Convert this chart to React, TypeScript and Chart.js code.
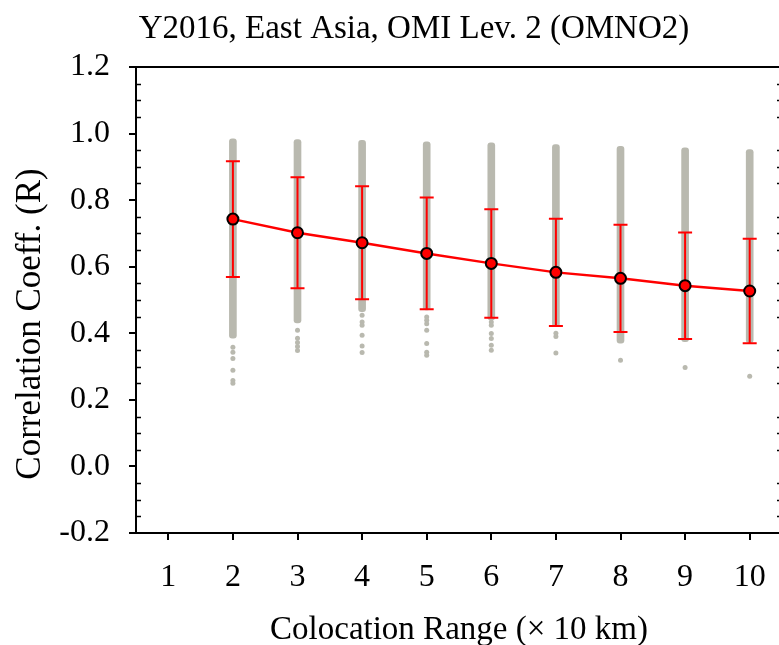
import { useEffect, useRef } from 'react';
import { Chart, registerables } from 'chart.js';

Chart.register(...registerables);

// Colocation range (× 10 km) and the mean correlation with its standard deviation
const ranges = [2, 3, 4, 5, 6, 7, 8, 9, 10];
const meanR = [0.743, 0.702, 0.672, 0.640, 0.610, 0.583, 0.565, 0.543, 0.527];
const sdR = [0.174, 0.167, 0.170, 0.168, 0.163, 0.161, 0.161, 0.160, 0.157];

// Dense spread of individual correlations at each range
const bandTop = [0.984, 0.982, 0.980, 0.975, 0.972, 0.967, 0.962, 0.957, 0.952];
const bandLow = [0.385, 0.431, 0.465, 0.470, 0.440, 0.420, 0.370, 0.375, 0.372];

// Sparse low correlations below the dense spread
const lowR2 = [0.358, 0.343, 0.324, 0.289, 0.258, 0.250];
const lowR3 = [0.409, 0.385, 0.372, 0.360, 0.348];
const lowR4 = [0.454, 0.434, 0.424, 0.394, 0.362, 0.342];
const lowR5 = [0.449, 0.439, 0.429, 0.409, 0.369, 0.343, 0.334];
const lowR6 = [0.434, 0.424, 0.399, 0.384, 0.364, 0.349];
const lowR7 = [0.400, 0.390, 0.341];
const lowR8 = [0.319];
const lowR9 = [0.297];
const lowR10 = [0.271];
const lowR = [lowR2, lowR3, lowR4, lowR5, lowR6, lowR7, lowR8, lowR9, lowR10];

const xTicks = [1, 2, 3, 4, 5, 6, 7, 8, 9, 10];
const yTicks = [-0.2, 0.0, 0.2, 0.4, 0.6, 0.8, 1.0, 1.2];

const TITLE = 'Y2016, East Asia, OMI Lev. 2 (OMNO2)';
const X_TITLE = 'Colocation Range (× 10 km)';
const Y_TITLE = 'Correlation Coeff. (R)';

const FAMILY = '"Liberation Serif", "Times New Roman", serif';
const GRAY = '#b9b9af';
const RED = '#ff0000';

const CANVAS_W = 800;
const CANVAS_H = 645;

const framePlugin = {
  id: 'frame',
  beforeDatasetDraw(chart: any, args: any) {
    // error bars sit under the mean line and its markers
    if (args.index !== 0) return;
    const { ctx } = chart;
    const xs = chart.scales.x;
    const ys = chart.scales.y;
    ctx.save();
    ctx.strokeStyle = RED;
    ctx.lineWidth = 2;
    ranges.forEach((r, i) => {
      const px = xs.getPixelForValue(r);
      const hi = ys.getPixelForValue(meanR[i] + sdR[i]);
      const lo = ys.getPixelForValue(meanR[i] - sdR[i]);
      ctx.beginPath();
      ctx.moveTo(px, hi);
      ctx.lineTo(px, lo);
      ctx.moveTo(px - 7, hi);
      ctx.lineTo(px + 7, hi);
      ctx.moveTo(px - 7, lo);
      ctx.lineTo(px + 7, lo);
      ctx.stroke();
    });
    ctx.restore();
  },
  afterDraw(chart: any) {
    const { ctx, chartArea } = chart;
    const { left, right, top, bottom } = chartArea;
    const ys = chart.scales.y;
    ctx.save();
    ctx.strokeStyle = '#000';
    ctx.lineWidth = 2;
    // closing frame: top and right edges
    ctx.beginPath();
    ctx.moveTo(left - 1, top);
    ctx.lineTo(right, top);
    ctx.moveTo(right, top - 1);
    ctx.lineTo(right, bottom + 1);
    ctx.stroke();
    // minor ticks (inward) every 0.05 and outward majors on the right axis
    ctx.lineWidth = 1.5;
    ctx.beginPath();
    for (let k = 0; k <= 28; k++) {
      const v = -0.2 + k * 0.05;
      const py = Math.round(ys.getPixelForValue(v)) + 0.5;
      if (k % 4 === 0) {
        ctx.moveTo(right, py);
        ctx.lineTo(right + 7, py);
      } else {
        ctx.moveTo(left, py);
        ctx.lineTo(left + 5, py);
        ctx.moveTo(right, py);
        ctx.lineTo(right - 5, py);
      }
    }
    ctx.stroke();
    ctx.fillStyle = '#000';
    // chart title
    ctx.font = `33px ${FAMILY}`;
    ctx.textAlign = 'center';
    ctx.textBaseline = 'alphabetic';
    ctx.fillText(TITLE, 414, 38);
    // y-axis title, reading upward
    ctx.translate(31, 324);
    ctx.rotate(-Math.PI / 2);
    ctx.font = `35px ${FAMILY}`;
    ctx.textAlign = 'center';
    ctx.textBaseline = 'middle';
    ctx.fillText(Y_TITLE, 0, 0);
    ctx.restore();
  },
};

export default function App() {
  const canvasRef = useRef<HTMLCanvasElement | null>(null);

  useEffect(() => {
    const canvas = canvasRef.current;
    if (!canvas) return;

    const meanPoints = ranges.map((x, i) => ({ x, y: meanR[i] }));
    const lowPoints: { x: number; y: number }[] = [];
    ranges.forEach((x, i) => lowR[i].forEach((y) => lowPoints.push({ x, y })));
    const bands = ranges.map((x, i) => ({ x, y: [bandLow[i], bandTop[i]] }));

    const tickFont = { family: FAMILY, size: 32, lineHeight: 1.2 };
    const titleFont = { family: FAMILY, size: 33, lineHeight: 1.2 };

    const chart = new Chart(canvas, {
      type: 'scatter',
      data: {
        datasets: [
          {
            type: 'line',
            data: meanPoints,
            borderColor: RED,
            borderWidth: 2.5,
            pointRadius: 5.5,
            pointBorderWidth: 2,
            pointBackgroundColor: RED,
            pointBorderColor: '#000',
            tension: 0,
            fill: false,
            order: 0,
          },
          {
            type: 'scatter',
            data: lowPoints,
            backgroundColor: GRAY,
            borderWidth: 0,
            pointRadius: 2.5,
            order: 1,
          },
          {
            type: 'bar',
            data: bands as any,
            backgroundColor: GRAY,
            barThickness: 7,
            borderRadius: 3,
            borderSkipped: false,
            order: 2,
          },
        ] as any,
      },
      options: {
        responsive: false,
        animation: false,
        devicePixelRatio: 1,
        layout: { padding: { left: 0, top: 67, right: CANVAS_W - 782, bottom: 0 } },
        plugins: {
          legend: { display: false },
          tooltip: { enabled: false },
          title: { display: false },
        },
        scales: {
          x: {
            type: 'linear',
            min: 0.5,
            max: 10.5,
            offset: false,
            afterBuildTicks: (s: any) => {
              s.ticks = xTicks.map((v) => ({ value: v }));
            },
            afterFit: (s: any) => {
              s.height = CANVAS_H - 533;
            },
            ticks: {
              font: tickFont,
              color: '#000',
              padding: 18,
              maxRotation: 0,
              autoSkip: false,
              callback: (v: any) => String(v),
            },
            grid: {
              offset: false,
              drawOnChartArea: false,
              drawTicks: true,
              tickLength: 7,
              color: '#000',
              lineWidth: 2,
            },
            border: { display: true, color: '#000', width: 2 },
            title: {
              display: true,
              text: X_TITLE,
              font: titleFont,
              color: '#000',
              padding: { top: 0, bottom: -5 },
            },
          },
          y: {
            type: 'linear',
            min: -0.2,
            max: 1.2,
            afterBuildTicks: (s: any) => {
              s.ticks = yTicks.map((v) => ({ value: v }));
            },
            afterFit: (s: any) => {
              s.width = 136;
            },
            ticks: {
              font: tickFont,
              color: '#000',
              padding: 19,
              callback: (v: any) => Number(v).toFixed(1),
            },
            grid: {
              drawOnChartArea: false,
              drawTicks: true,
              tickLength: 7,
              color: '#000',
              lineWidth: 2,
            },
            border: { display: true, color: '#000', width: 2 },
          },
        },
      } as any,
      plugins: [framePlugin],
    });

    return () => chart.destroy();
  }, []);

  return (
    <div
      style={{
        position: 'absolute',
        left: 0,
        top: 0,
        width: 779,
        height: 645,
        overflow: 'hidden',
        background: '#fff',
      }}
    >
      <canvas ref={canvasRef} width={CANVAS_W} height={CANVAS_H} style={{ display: 'block' }} />
    </div>
  );
}
